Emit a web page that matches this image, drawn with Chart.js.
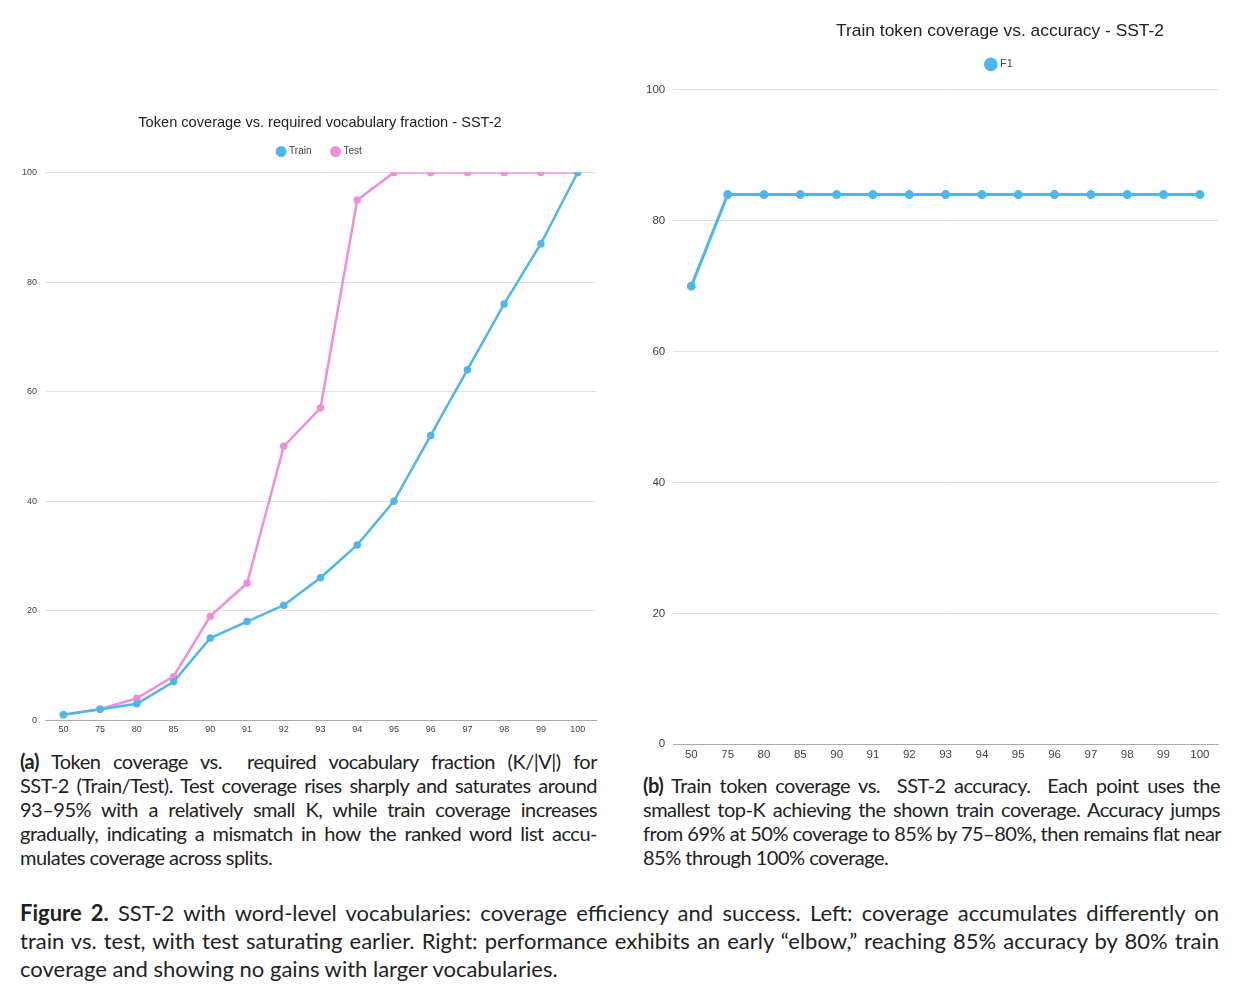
<!DOCTYPE html>
<html>
<head>
<meta charset="utf-8">
<script src="https://cdn.jsdelivr.net/npm/chart.js@4.4.1/dist/chart.umd.min.js"></script>
<style>
  body { margin: 0; background: #fff; width: 1242px; height: 998px; position: relative; overflow: hidden; }
  .box { position: absolute; }
  .cap { position: absolute; font-family: Lato, "Noto Sans", sans-serif; color: #222; }
  .cap div { text-align: justify; text-align-last: justify; white-space: nowrap; }
  .cap div.last { text-align-last: left; }
  .cap b { font-weight: 700; }
  .sub { letter-spacing: -0.5px; }
</style>
</head>
<body>
<div class="box" style="left:0; top:100px; width:610px; height:645px;"><canvas id="left"></canvas></div>
<div class="box" style="left:630px; top:8px; width:612px; height:762px;"><canvas id="right"></canvas></div>

<div class="cap sub" style="left:20px; top:749px; width:577px; font-size:20px; line-height:24px;">
  <div><b>(a)</b> Token coverage vs.&nbsp; required vocabulary fraction (K/|V|) for</div>
  <div>SST-2 (Train/Test). Test coverage rises sharply and saturates around</div>
  <div>93–95% with a relatively small K, while train coverage increases</div>
  <div>gradually, indicating a mismatch in how the ranked word list accu-</div>
  <div class="last">mulates coverage across splits.</div>
</div>
<div class="cap sub" style="left:643px; top:773px; width:577px; font-size:20px; line-height:24px;">
  <div><b>(b)</b> Train token coverage vs.&nbsp; SST-2 accuracy.&nbsp; Each point uses the</div>
  <div>smallest top-K achieving the shown train coverage. Accuracy jumps</div>
  <div>from 69% at 50% coverage to 85% by 75–80%, then remains flat near</div>
  <div class="last">85% through 100% coverage.</div>
</div>
<div class="cap" style="left:20px; top:899px; width:1199px; font-size:22px; line-height:28px;">
  <div><b>Figure 2.</b> SST-2 with word-level vocabularies: coverage efficiency and success. Left: coverage accumulates differently on</div>
  <div>train vs. test, with test saturating earlier. Right: performance exhibits an early “elbow,” reaching 85% accuracy by 80% train</div>
  <div class="last">coverage and showing no gains with larger vocabularies.</div>
</div>

<script>
// coverage levels (% of train tokens covered)
const coverage = ['50', '75', '80', '85', '90', '91', '92', '93', '94', '95', '96', '97', '98', '99', '100'];
// required vocabulary fraction
const trainFrac = [1, 2, 3, 7, 15, 18, 21, 26, 32, 40, 52, 64, 76, 87, 100];
const testFrac = [1, 2, 4, 8, 19, 25, 50, 57, 95, 100, 100, 100, 100, 100, 100];
// accuracy
const f1 = [70, 84, 84, 84, 84, 84, 84, 84, 84, 84, 84, 84, 84, 84, 84];

const blue = '#4db6ec';
const pink = '#ef8fd9';
Chart.defaults.font.family = '"Liberation Sans", Arial, sans-serif';
Chart.defaults.color = '#333';

// adds space under the legend and slides title + legend sideways
function header(extra, dx) {
    return {
        id: 'header',
        beforeInit(chart) {
            const fit = chart.legend.fit;
            chart.legend.fit = function () {
                fit.bind(chart.legend)();
                this.height += extra;
            };
        },
        afterLayout(chart) {
            [chart.titleBlock, chart.legend].forEach(b => {
                b.left += dx;
                b.right += dx;
            });
        }
    };
}

function axes(tickSize, labelPad) {
    return {
        x: {
            offset: true,
            grid: { display: false, drawTicks: false },
            border: { color: '#aaa', width: 1 },
            ticks: { font: { size: tickSize }, color: '#444', padding: labelPad, maxRotation: 0, autoSkip: false }
        },
        y: {
            min: 0, max: 100,
            ticks: { stepSize: 20, font: { size: tickSize }, color: '#444', padding: 8 },
            grid: { color: '#e0e0e0', drawTicks: false },
            border: { display: false }
        }
    };
}

new Chart(document.getElementById('left'), {
    type: 'line',
    data: {
        labels: coverage,
        datasets: [
            { label: 'Train', data: trainFrac, borderColor: blue, backgroundColor: blue, borderWidth: 2.5, pointRadius: 2.5, tension: 0 },
            { label: 'Test', data: testFrac, borderColor: pink, backgroundColor: pink, borderWidth: 2.5, pointRadius: 2.5, tension: 0 }
        ]
    },
    options: {
        responsive: true,
        maintainAspectRatio: false,
        animation: false,
        layout: { padding: { left: 14, right: 14, top: 14, bottom: 6 } },
        plugins: {
            title: { display: true, text: 'Token coverage vs. required vocabulary fraction - SST-2', font: { size: 14.6, weight: 'normal' }, color: '#222', padding: { top: 0, bottom: -6 } },
            legend: {
                labels: { usePointStyle: true, pointStyle: 'circle', boxWidth: 6, boxHeight: 6, font: { size: 10 }, color: '#444', padding: 21 }
            },
            tooltip: { enabled: false }
        },
        scales: axes(9, 4)
    },
    plugins: [header(6, 15)]
});

new Chart(document.getElementById('right'), {
    type: 'line',
    data: {
        labels: coverage,
        datasets: [
            { label: 'F1', data: f1, borderColor: blue, backgroundColor: blue, borderWidth: 3, pointRadius: 3, tension: 0 }
        ]
    },
    options: {
        responsive: true,
        maintainAspectRatio: false,
        animation: false,
        layout: { padding: { left: 8, right: 24, top: 13, bottom: 4 } },
        plugins: {
            title: { display: true, text: 'Train token coverage vs. accuracy - SST-2', font: { size: 17.4, weight: 'normal' }, color: '#222', padding: { top: 0, bottom: -7 } },
            legend: {
                labels: { usePointStyle: true, pointStyle: 'circle', boxWidth: 7.5, boxHeight: 7.5, font: { size: 11 }, color: '#444', padding: 24 }
            },
            tooltip: { enabled: false }
        },
        scales: axes(11.5, 4)
    },
    plugins: [header(10, 72)]
});
</script>
</body>
</html>
